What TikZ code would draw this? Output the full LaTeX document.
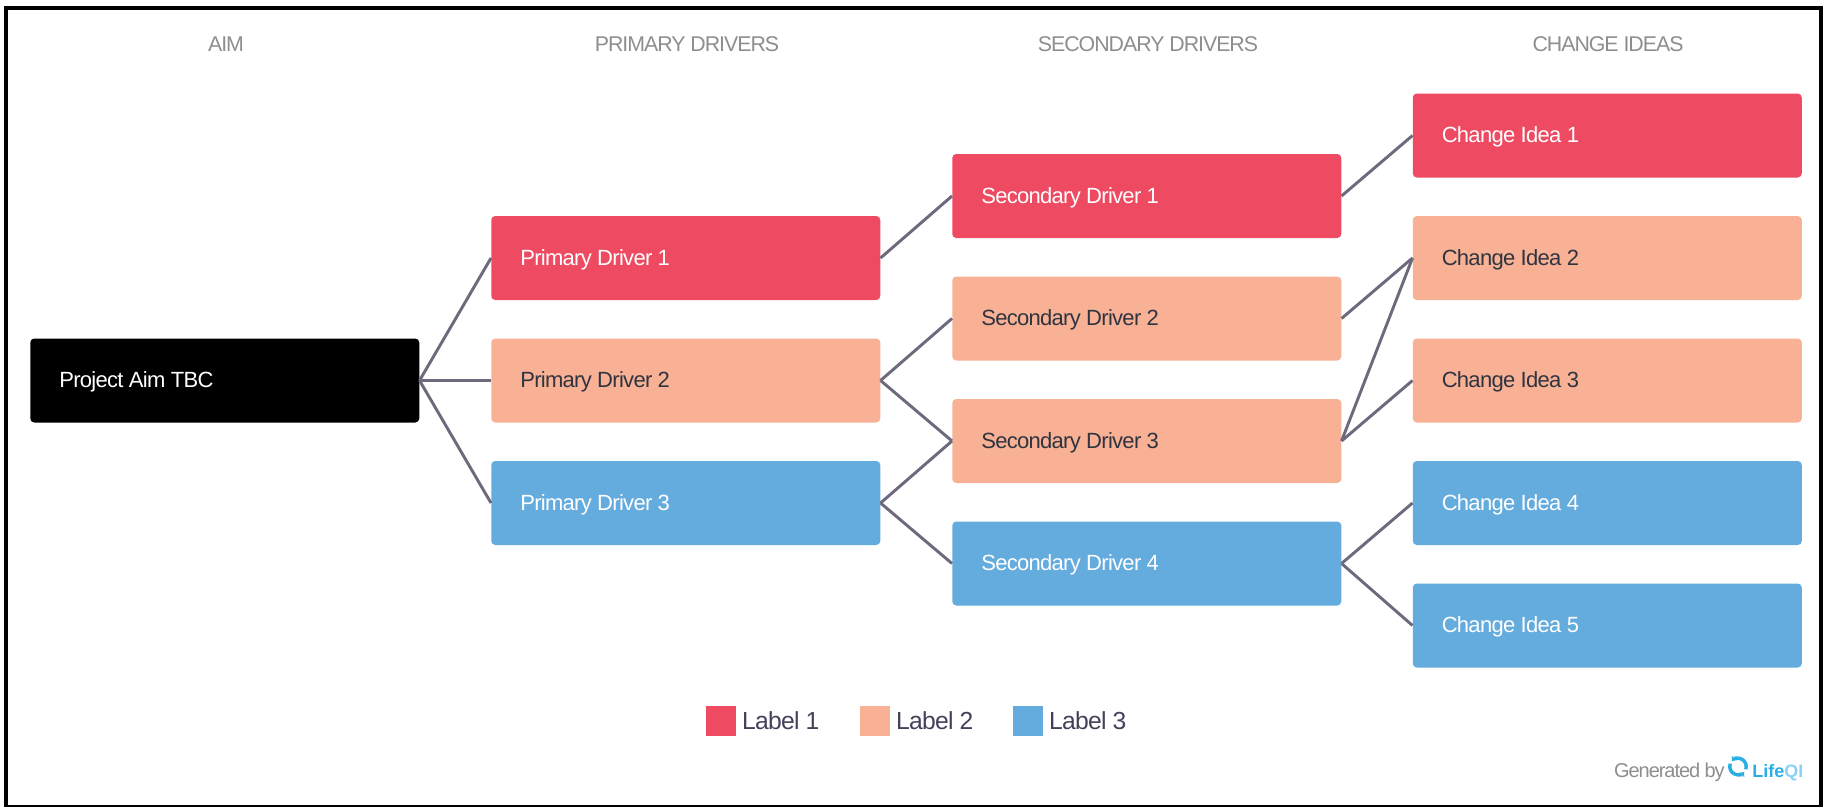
\documentclass[tikz,border=0pt]{standalone}
\usepackage{fontspec}
\setmainfont{Liberation Sans}
\newfontfamily\boxfont[LetterSpace=-3.2]{Liberation Sans}
\newfontfamily\headfont[LetterSpace=-4.8]{Liberation Sans}
\newfontfamily\legendfont[LetterSpace=-3]{Liberation Sans}
\newfontfamily\footfont[LetterSpace=-5.3]{Liberation Sans}
\usetikzlibrary{arrows.meta}

\definecolor{lab1}{HTML}{EE4B63}
\definecolor{lab2}{HTML}{F8B195}
\definecolor{lab3}{HTML}{64ABDE}
\definecolor{edgecol}{HTML}{6C6A7C}
\definecolor{inkcol}{HTML}{2F3440}
\definecolor{headcol}{HTML}{8E8E8E}
\definecolor{legendcol}{HTML}{463F5A}
\definecolor{logocol}{HTML}{2AAEE6}

\tikzset{
  box/.style={rectangle, rounded corners=3pt, fill=#1, minimum width=291.75pt, minimum height=63pt,
    inner xsep=21.75pt, text width=248.25pt, text height=14pt, text depth=3.5pt, align=flush left, anchor=west,
    font=\boxfont\fontsize{16.5}{18}\selectfont},
  redbox/.style={box=lab1, text=white},
  salmonbox/.style={box=lab2, text=inkcol},
  bluebox/.style={box=lab3, text=white},
  aimbox/.style={box=black, text=white},
  head/.style={text=headcol, font=\headfont\fontsize{16}{18}\selectfont},
  swatch/.style={rectangle, fill=#1, minimum size=22.5pt, inner sep=0pt, anchor=west},
  legendtext/.style={text=legendcol, font=\legendfont\fontsize{18.5}{20}\selectfont, anchor=west, inner sep=0pt},
  link/.style={draw=edgecol, line width=2.2pt},
  logoarc/.style={logocol, line width=2.6pt, -{Latex[length=3pt,width=5.5pt]}}
}

\begin{document}
\begin{tikzpicture}[x=0.75pt,y=-0.75pt]
\useasboundingbox (0,0) rectangle (1829,807);

% FRAME
\draw[line width=3pt] (6,7.5) rectangle (1820.5,806.5);

% HEADERS
\node[head] (hA) at (226,44) {AIM};
\node[head] (hP) at (687,44) {PRIMARY DRIVERS};
\node[head] (hS) at (1148,44) {SECONDARY DRIVERS};
\node[head] (hC) at (1608,44) {CHANGE IDEAS};

% AIM
\node[aimbox] (A) at (30,380.5) {Project Aim TBC};

% PRIMARY
\path (491,135.5) foreach \j/\s in {1/redbox,2/salmonbox,3/bluebox} {
++(0,122.5) node[\s] (P\j) {Primary Driver \j}
};

% SECONDARY
\path (952,73.5) foreach \j/\s in {1/redbox,2/salmonbox,3/salmonbox,4/bluebox} {
++(0,122.5) node[\s] (S\j) {Secondary Driver \j}
};

% CHANGE
\path (1412.5,13) foreach \j/\s in {1/redbox,2/salmonbox,3/salmonbox,4/bluebox,5/bluebox} {
++(0,122.5) node[\s] (C\j) {Change Idea \j}
};

% EDGES
\foreach \a/\b in {A/P1,A/P2,A/P3,P1/S1,P2/S2,P2/S3,P3/S3,P3/S4,S1/C1,S2/C2,S3/C2,S3/C3,S4/C4,S4/C5} {
\draw[link] (\a.east) -- (\b.west);
}

% LEGEND
\foreach \j/\xx in {1/706,2/860,3/1013} {
\node[swatch=lab\j] (L\j) at (\xx,721) {};
\node[legendtext] (T\j) at ([xshift=4pt]L\j.east) {Label \j};
}

% FOOTER
\node[text=headcol, font=\footfont\fontsize{15}{16}\selectfont, anchor=base east, inner sep=0pt] (G) at (1725,777) {Generated by};
\coordinate (ring) at (1738,766.5);
\draw[logoarc] (ring) ++(-20:6.2pt) arc[start angle=-20, end angle=140, radius=6.2pt];
\draw[logoarc] (ring) ++(160:6.2pt) arc[start angle=160, end angle=320, radius=6.2pt];
\node[text=logocol, font=\fontsize{13.5}{16}\selectfont\bfseries, anchor=base west, inner sep=0pt] (Q) at (1752,777) {Life\textcolor{logocol!55}{QI}};

\end{tikzpicture}
\end{document}
